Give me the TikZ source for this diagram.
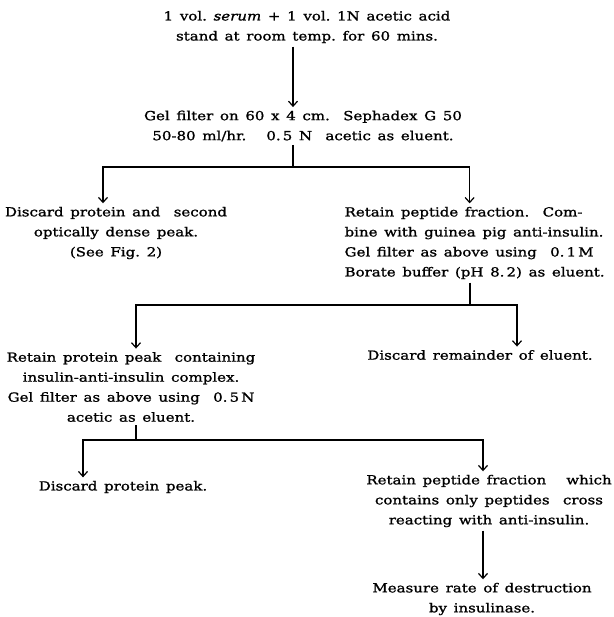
\documentclass[tikz,border=0pt]{standalone}
\usepackage{fontspec}
\setmainfont{DejaVu Serif}[FakeStretch=1.2,WordSpace=1.4,FakeBold=1.2]
\usetikzlibrary{arrows.meta}

\tikzset{
	txt/.style={align=center, inner sep=3pt, font=\fontsize{12.5}{20}\selectfont},
	txtl/.style={txt, align=left},
}

\begin{document}
\begin{tikzpicture}[x=1pt, y=-1pt, >={Straight Barb[length=5pt,width=9pt]}, line width=1.2pt]
		\useasboundingbox (0,0) rectangle (613,617);
		%start
		\node[txt] (serum) at (307,27) {1 vol.\ \textit{serum} + 1 vol.\ 1N acetic acid\\stand at room temp.\ for 60 mins.};
		\node[txt] (gel) at (303,126) {Gel filter on 60 x 4 cm.\ \ Sephadex G 50\\50-80 ml/hr.\ \ \ 0.\,5 N\ \ acetic as eluent.};
		%first split
		\node[txt] (discA) at (116,233) {Discard protein and\ \ second\\optically dense peak.\\(See Fig.\ 2)};
		\node[txtl, anchor=west] (retA) at (341,243) {Retain peptide fraction.\ \ Com-\\bine with guinea pig anti-insulin.\\Gel filter as above using\ \ 0.\,1\,M\\Borate buffer (pH 8.\,2) as eluent.};
		%second split
		\node[txt] (retB) at (131,387) {Retain protein peak\ \ containing\\insulin-anti-insulin complex.\\Gel filter as above using\ \ 0.\,5\,N\\acetic as eluent.};
		\node[txt] (discB) at (480,355) {Discard remainder of eluent.};
		%third split
		\node[txt] (discC) at (123,487) {Discard protein peak.};
		\node[txt] (retC) at (489,501) {Retain peptide fraction\ \ \ which\\contains only peptides\ \ cross\\reacting with anti-insulin.};
		\node[txt] (meas) at (482,599) {Measure rate of destruction\\by insulinase.};
		%junctions
		\coordinate (j1) at (293,167);
		\coordinate (j2) at (470,305);
		\coordinate (j3) at (136,440);
		%connectors
		\draw[->] (serum.south -| j1) -- (gel.north -| j1);
		\draw (gel.south -| j1) -- (j1);
		\draw[->] (j1) -| ([xshift=-13pt]discA.north);
		\draw[->] (j1) -| ([xshift=-5pt]retA.north);
		\draw (retA.south -| j2) -- (j2);
		\draw[->] (j2) -| ([xshift=5pt]retB.north);
		\draw[->] (j2) -| ([xshift=37pt]discB.north);
		\draw (retB.south -| j3) -- (j3);
		\draw[->] (j3) -| ([xshift=-40pt]discC.north);
		\draw[->] (j3) -| ([xshift=-6pt]retC.north);
		\draw[->] ([xshift=-6pt]retC.south) -- ([xshift=1pt]meas.north);
	\end{tikzpicture}
\end{document}
